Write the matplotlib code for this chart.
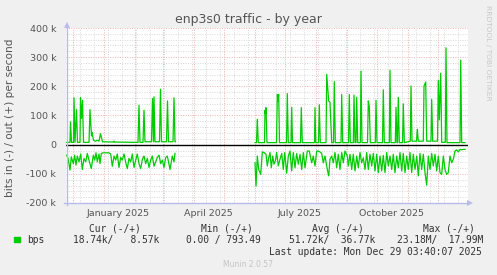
import datetime as dt
import matplotlib
matplotlib.use("Agg")
import matplotlib.pyplot as plt
from matplotlib.lines import Line2D
from matplotlib.patches import Rectangle

# time axis: days since start of the 400 day window
start = dt.date(2024, 11, 24)
ndays = 400

# outgoing bits per second (k), first block of data
out1_days = [1, 4.5, 5, 6, 8, 8.5, 9.5, 11, 12, 14.5, 15, 16, 17, 18, 23.5, 24.5,
             26, 26.5, 28, 30, 32, 33.5, 35, 37, 48, 48.5, 49, 68.5, 72.5, 73.5,
             74.5, 77.5, 78.5, 79.5, 86, 87, 88, 88.5, 89.5, 94, 95, 96, 101, 102,
             103, 107.5, 108.5, 109.5, 110]
out1_vals = [8, 8, 78, 8, 8, 161, 8, 120, 8, 8, 161, 90, 152, 8, 8, 120,
             30, 42, 15, 12, 15, 12, 38, 10, 9, 12, 9, 8, 8, 135,
             8, 8, 118, 10, 10, 158, 10, 164, 10, 10, 190, 10, 10, 150,
             10, 10, 161, 10, 10]

# outgoing, second block
out2_days = [189.5, 191, 191.8, 192.8, 199, 199.5, 200, 200.5, 201.5, 211, 211.8,
             212.5, 213.2, 214, 221, 221.8, 222.8, 225.5, 226.2, 227, 235, 235.8,
             236.8, 249, 249.5, 250.3, 253, 253.8, 254.8, 260.5, 261.2, 263.2,
             264.5, 266.2, 268, 268.8, 269.8, 275.5, 276.2, 277.2, 283, 283.8,
             284.8, 287.8, 288.5, 289.5, 290.5, 291.2, 292.2, 294.8, 295.5, 296.5,
             302, 302.8, 303.8, 304.8, 309.8, 310.5, 311.5, 317, 317.8, 318.8,
             323.8, 324.5, 325.5, 329.8, 330.5, 331.5, 332, 332.8, 333.8, 337,
             337.8, 338.8, 344.8, 345.5, 346.5, 351, 351.8, 352.8, 357.8, 358.5,
             360.2, 361.2, 365.5, 366.2, 367.2, 372, 372.8, 373.8, 375.2, 376.2,
             379.8, 380.5, 381.5, 394.5, 395.2, 396.2, 399.5]
out2_vals = [7, 7, 87, 7, 7, 118, 105, 127, 7, 7, 172,
             150, 172, 7, 7, 175, 7, 7, 128, 7, 7, 127,
             7, 7, 127, 7, 7, 137, 7, 7, 241, 150,
             145, 7, 7, 216, 7, 7, 172, 7, 7, 172,
             7, 7, 170, 7, 7, 162, 7, 7, 252, 7,
             7, 150, 130, 7, 7, 152, 7, 7, 188, 7,
             7, 255, 7, 7, 128, 7, 7, 162, 7, 7,
             140, 7, 12, 201, 12, 12, 53, 12, 12, 201,
             215, 12, 12, 155, 12, 12, 220, 85, 245, 8,
             8, 332, 7, 7, 290, 7, 7]

# incoming bits per second (k), drawn negative
in1_days = [1.2, 2.5, 4.5, 5.8, 7.8, 9.2, 10.5, 11.8, 13.5, 15.2, 16.8, 18.5, 20.2,
            21.8, 23.5, 25.8, 27.8, 29.2, 30.5, 31.8, 33.5, 34.5, 35.8, 37.8, 43.5,
            45.2, 46.8, 48.5, 50.2, 51.8, 53.5, 55.2, 56.8, 58.5, 60.5, 61.8, 63.5,
            65.2, 66.8, 68.5, 70.2, 71.8, 73.5, 75.2, 76.8, 78.5, 80.2, 81.8, 83.5,
            85.2, 86.8, 88.5, 90.2, 91.8, 93.5, 95.2, 96.8, 98.5, 100.2, 101.8,
            103.5, 104.5, 105.8, 106.8, 108.5, 109.5]
in1_vals = [-36, -47, -87, -42, -65, -36, -70, -39, -59, -32, -85, -47, -59,
            -30, -53, -82, -36, -53, -28, -59, -32, -65, -30, -28, -28,
            -32, -74, -39, -53, -32, -78, -44, -53, -32, -65, -82, -47,
            -59, -32, -78, -53, -32, -65, -82, -51, -39, -65, -47, -78,
            -53, -39, -74, -59, -44, -36, -65, -53, -78, -44, -39,
            -67, -85, -59, -39, -59, -30]

in2_days = [189.5, 190.5, 191.8, 193.2, 195.2, 196.8, 198.5, 200.5, 201.8, 203.2,
            204.5, 205.8, 207.2, 208.5, 209.8, 211.2, 212.8, 214.5, 216.2, 217.8,
            219.2, 221.2, 222.8, 224.5, 226.2, 227.8, 229.5, 231.2, 232.8, 234.5,
            236.2, 237.8, 239.5, 241.8, 243.8, 246.2, 247.8, 249.5, 251.2, 252.8,
            254.5, 256.2, 257.8, 259.5, 261.8, 263.2, 264.5, 266.2, 267.8, 269.5,
            271.2, 272.8, 274.5, 276.2, 277.8, 279.5, 281.8, 282.8, 284.5, 286.2,
            287.8, 289.5, 291.2, 292.8, 294.5, 296.2, 297.8, 299.5, 301.2, 302.8,
            304.5, 306.2, 307.8, 309.5, 311.2, 312.8, 314.5, 316.2, 317.8, 319.5,
            321.2, 322.8, 324.5, 326.2, 327.8, 329.5, 331.2, 332.8, 334.5, 336.2,
            337.8, 339.5, 341.2, 342.8, 344.5, 346.2, 347.8, 349.5, 351.2, 352.8,
            354.5, 356.2, 357.8, 359.5, 361.2, 362.8, 364.5, 366.2, 367.8, 369.5,
            371.2, 372.8, 374.5, 376.2, 377.8, 379.5, 381.2, 382.8, 384.5, 386.2,
            387.8, 389.5, 391.2, 392.8, 394.5, 396.2, 397.8, 399.5]
in2_vals = [-62, -142, -39, -85, -102, -25, -27, -33, -73, -45,
            -27, -79, -39, -67, -56, -27, -73, -50, -30, -85,
            -27, -98, -39, -22, -90, -27, -79, -30, -67, -33,
            -85, -27, -79, -22, -22, -62, -39, -73, -22, -22,
            -25, -30, -62, -39, -85, -107, -50, -39, -62, -27,
            -79, -33, -85, -27, -62, -22, -39, -73, -33, -85,
            -33, -90, -39, -79, -27, -62, -45, -85, -27, -85,
            -33, -73, -30, -90, -33, -96, -39, -90, -37, -96,
            -27, -73, -39, -85, -33, -96, -39, -79, -27, -90,
            -30, -96, -39, -85, -27, -96, -33, -85, -39, -107,
            -30, -85, -33, -96, -139, -39, -85, -30, -73, -33,
            -90, -39, -96, -102, -39, -85, -102, -96, -39, -62,
            -50, -22, -18, -25, -16, -18, -16, -16]

ytick_vals = [-200, -100, 0, 100, 200, 300, 400]
ytick_labels = ["-200 k", "-100 k", "0", "100 k", "200 k", "300 k", "400 k"]
month_labels = ["January 2025", "April 2025", "July 2025", "October 2025"]
label_months = [(2025, 1), (2025, 4), (2025, 7), (2025, 10)]

W, H = 497, 275
fig = plt.figure(figsize=(W / 100, H / 100), dpi=100, facecolor="#f0f0f0")


def px(x, y):
    return x / W, 1 - y / H


def ftext(x, y, s, **kw):
    fx, fy = px(x, y)
    fig.text(fx, fy, s, **kw)


ax = fig.add_axes([66 / W, 1 - 203 / H, 402 / W, 175 / H])
ax.set_facecolor("white")
ax.set_xlim(0.5, 402.5)
ax.set_ylim(-200, 400)
for s in ax.spines.values():
    s.set_visible(False)

dot = (0, (1, 1.5))
# horizontal grid
for v in range(-200, 401, 20):
    if v % 100:
        ax.axhline(v, color="#d8d8d8", lw=0.7, ls=dot, zorder=1)
for v in ytick_vals:
    ax.axhline(v, color="#eeb0b0", lw=0.7, ls=dot, zorder=1)

# vertical grid: two-week minor, monthly major
for d in range(14, ndays + 3, 14):
    ax.axvline(d, color="#d8d8d8", lw=0.7, ls=dot, zorder=1)
month_pos = []
y, m = 2024, 12
while True:
    d = (dt.date(y, m, 1) - start).days
    if d > ndays + 2:
        break
    month_pos.append(d)
    m += 1
    if m > 12:
        y, m = y + 1, 1
for d in month_pos:
    ax.axvline(d, color="#eeb0b0", lw=0.7, ls=dot, zorder=1)

green = "#00cc00"
ax.plot(out1_days, out1_vals, color=green, lw=0.9, zorder=3)
ax.plot(out2_days, out2_vals, color=green, lw=0.9, zorder=3)
ax.plot(in1_days, in1_vals, color=green, lw=0.9, zorder=3)
ax.plot(in2_days, in2_vals, color=green, lw=0.9, zorder=3)
ax.axhline(0, color="black", lw=1.0, zorder=4)

ax.set_yticks(ytick_vals)
ax.set_yticklabels(ytick_labels)
ax.set_xticks([(dt.date(yy, mm, 16) - start).days for yy, mm in label_months])
ax.set_xticklabels(month_labels)
ax.tick_params(length=0, labelsize=6.8, labelcolor="#555555")
ax.tick_params(axis="y", pad=7)
ax.tick_params(axis="x", pad=4)

# axis lines with arrows
axc = "#b8bcec"
fig.add_artist(Line2D([66.5 / W, 66.5 / W], [1 - 205 / H, 1 - 25 / H], color=axc, lw=1))
fig.add_artist(Line2D([64 / W, 469 / W], [1 - 203 / H, 1 - 203 / H], color=axc, lw=1))
fig.add_artist(Line2D([66.5 / W], [1 - 24.5 / H], marker="^", color=axc, ms=4, mew=0))
fig.add_artist(Line2D([470 / W], [1 - 203 / H], marker=">", color=axc, ms=4, mew=0))

ftext(248, 23.5, "enp3s0 traffic - by year", ha="center", va="baseline",
      fontsize=9, color="#555555")
ftext(10, 118, "bits in (-) / out (+) per second", ha="center", va="center",
      rotation=90, fontsize=7.6, color="#555555")
ftext(488, 53, "RRDTOOL / TOBI OETIKER", ha="center", va="center",
      rotation=270, fontsize=5.4, color="#c8c8c8")

mono = dict(family="DejaVu Sans Mono", fontsize=6.9, color="#333333", va="baseline")
ftext(89, 231.5, "Cur (-/+)", **mono)
ftext(201, 231.5, "Min (-/+)", **mono)
ftext(312, 231.5, "Avg (-/+)", **mono)
ftext(423, 231.5, "Max (-/+)", **mono)
fig.add_artist(Rectangle((14 / W, 1 - 242 / H), 5.5 / W, 5.5 / H, color=green))
ftext(27, 243, "bps", **mono)
ftext(73, 243, "18.74k/   8.57k", **mono)
ftext(186, 243, "0.00 / 793.49", **mono)
ftext(289, 243, "51.72k/  36.77k", **mono)
ftext(397, 243, "23.18M/  17.99M", **mono)
ftext(482, 255, "Last update: Mon Dec 29 03:40:07 2025", ha="right", **mono)
ftext(248, 267, "Munin 2.0.57", ha="center", va="baseline", fontsize=5.5, color="#c4c4c4")

fig.savefig("out.png", dpi=100, facecolor=fig.get_facecolor())
